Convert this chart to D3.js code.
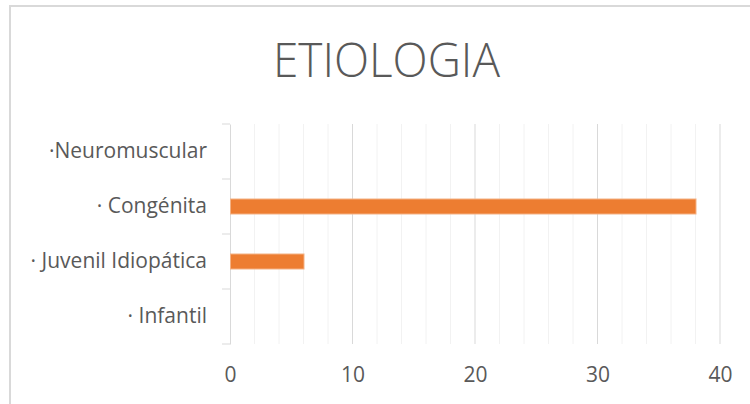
<!DOCTYPE html>
<html>
<head>
<meta charset="utf-8">
<script src="https://cdn.jsdelivr.net/npm/d3@7"></script>
<style>
  body { margin: 0; background: #fff; }
  text { font-family: "Open Sans", sans-serif; fill: #595959; }
</style>
</head>
<body>
<script>
const title = "ETIOLOGIA";
const categories = ["·Neuromuscular", "· Congénita", "· Juvenil Idiopática", "· Infantil"];
const values = [0, 38, 6, 0];
const xTicks = [0, 10, 20, 30, 40];
const minorTicks = d3.range(0, 41, 2);

const w = 750;
const h = 404;
const plotLeft = 230, plotRight = 720, plotTop = 124, plotBottom = 344;

const svg = d3.select("body").append("svg").attr("width", w).attr("height", h);

// chart border (goes off the right and bottom edge)
svg.append("rect")
  .attr("x", 10).attr("y", 6)
  .attr("width", 800).attr("height", 450)
  .attr("fill", "none").attr("stroke", "#d9d9d9").attr("stroke-width", 2);

svg.append("text")
  .attr("x", 386.5).attr("y", 77)
  .attr("text-anchor", "middle")
  .style("font-size", "47px").style("font-weight", 300)
  .attr("textLength", 227).attr("lengthAdjust", "spacingAndGlyphs")
  .text(title);

const x = d3.scaleLinear().domain([0, 40]).range([plotLeft, plotRight]);
const y = d3.scaleBand().domain(categories).range([plotTop, plotBottom]);

// minor grid
svg.append("g").selectAll("line")
  .data(minorTicks.filter(d => d % 10 !== 0))
  .enter().append("line")
  .attr("x1", d => x(d)).attr("x2", d => x(d))
  .attr("y1", plotTop).attr("y2", plotBottom)
  .attr("stroke", "#f2f2f2").attr("stroke-width", 1);

// major grid
svg.append("g").selectAll("line")
  .data(xTicks.filter(d => d > 0))
  .enter().append("line")
  .attr("x1", d => x(d)).attr("x2", d => x(d))
  .attr("y1", plotTop).attr("y2", plotBottom)
  .attr("stroke", "#d9d9d9").attr("stroke-width", 1);

// y axis
const yAxis = d3.axisLeft(y).tickSize(0).tickPadding(23);
const ya = svg.append("g").attr("transform", "translate(" + plotLeft + ",0)").call(yAxis);
ya.select(".domain").attr("stroke", "#d9d9d9");
ya.selectAll("text").style("font-size", "21px").attr("fill", "#595959").style("font-family", "Open Sans");

// category boundary ticks
const bounds = categories.map(c => y(c)).concat([plotBottom]);
svg.append("g").selectAll("line")
  .data(bounds)
  .enter().append("line")
  .attr("x1", plotLeft - 8).attr("x2", plotLeft)
  .attr("y1", d => d).attr("y2", d => d)
  .attr("stroke", "#d9d9d9");

// x axis labels
const xAxis = d3.axisBottom(x).tickValues(xTicks).tickSize(0).tickPadding(23);
const xa = svg.append("g").attr("transform", "translate(0," + plotBottom + ")").call(xAxis);
xa.select(".domain").remove();
xa.selectAll("text").style("font-size", "21px").attr("fill", "#595959").style("font-family", "Open Sans");

// bars
const barH = 15;
svg.append("g").selectAll("rect")
  .data(categories.map((c, i) => ({ c, v: values[i] })).filter(d => d.v > 0))
  .enter().append("rect")
  .attr("x", x(0) + 0.5)
  .attr("y", d => y(d.c) + y.bandwidth() / 2 - barH / 2)
  .attr("width", d => x(d.v) - x(0))
  .attr("height", barH)
  .attr("fill", "#ed7d31")
  .attr("stroke", "#f4b183").attr("stroke-width", 1);
</script>
</body>
</html>
